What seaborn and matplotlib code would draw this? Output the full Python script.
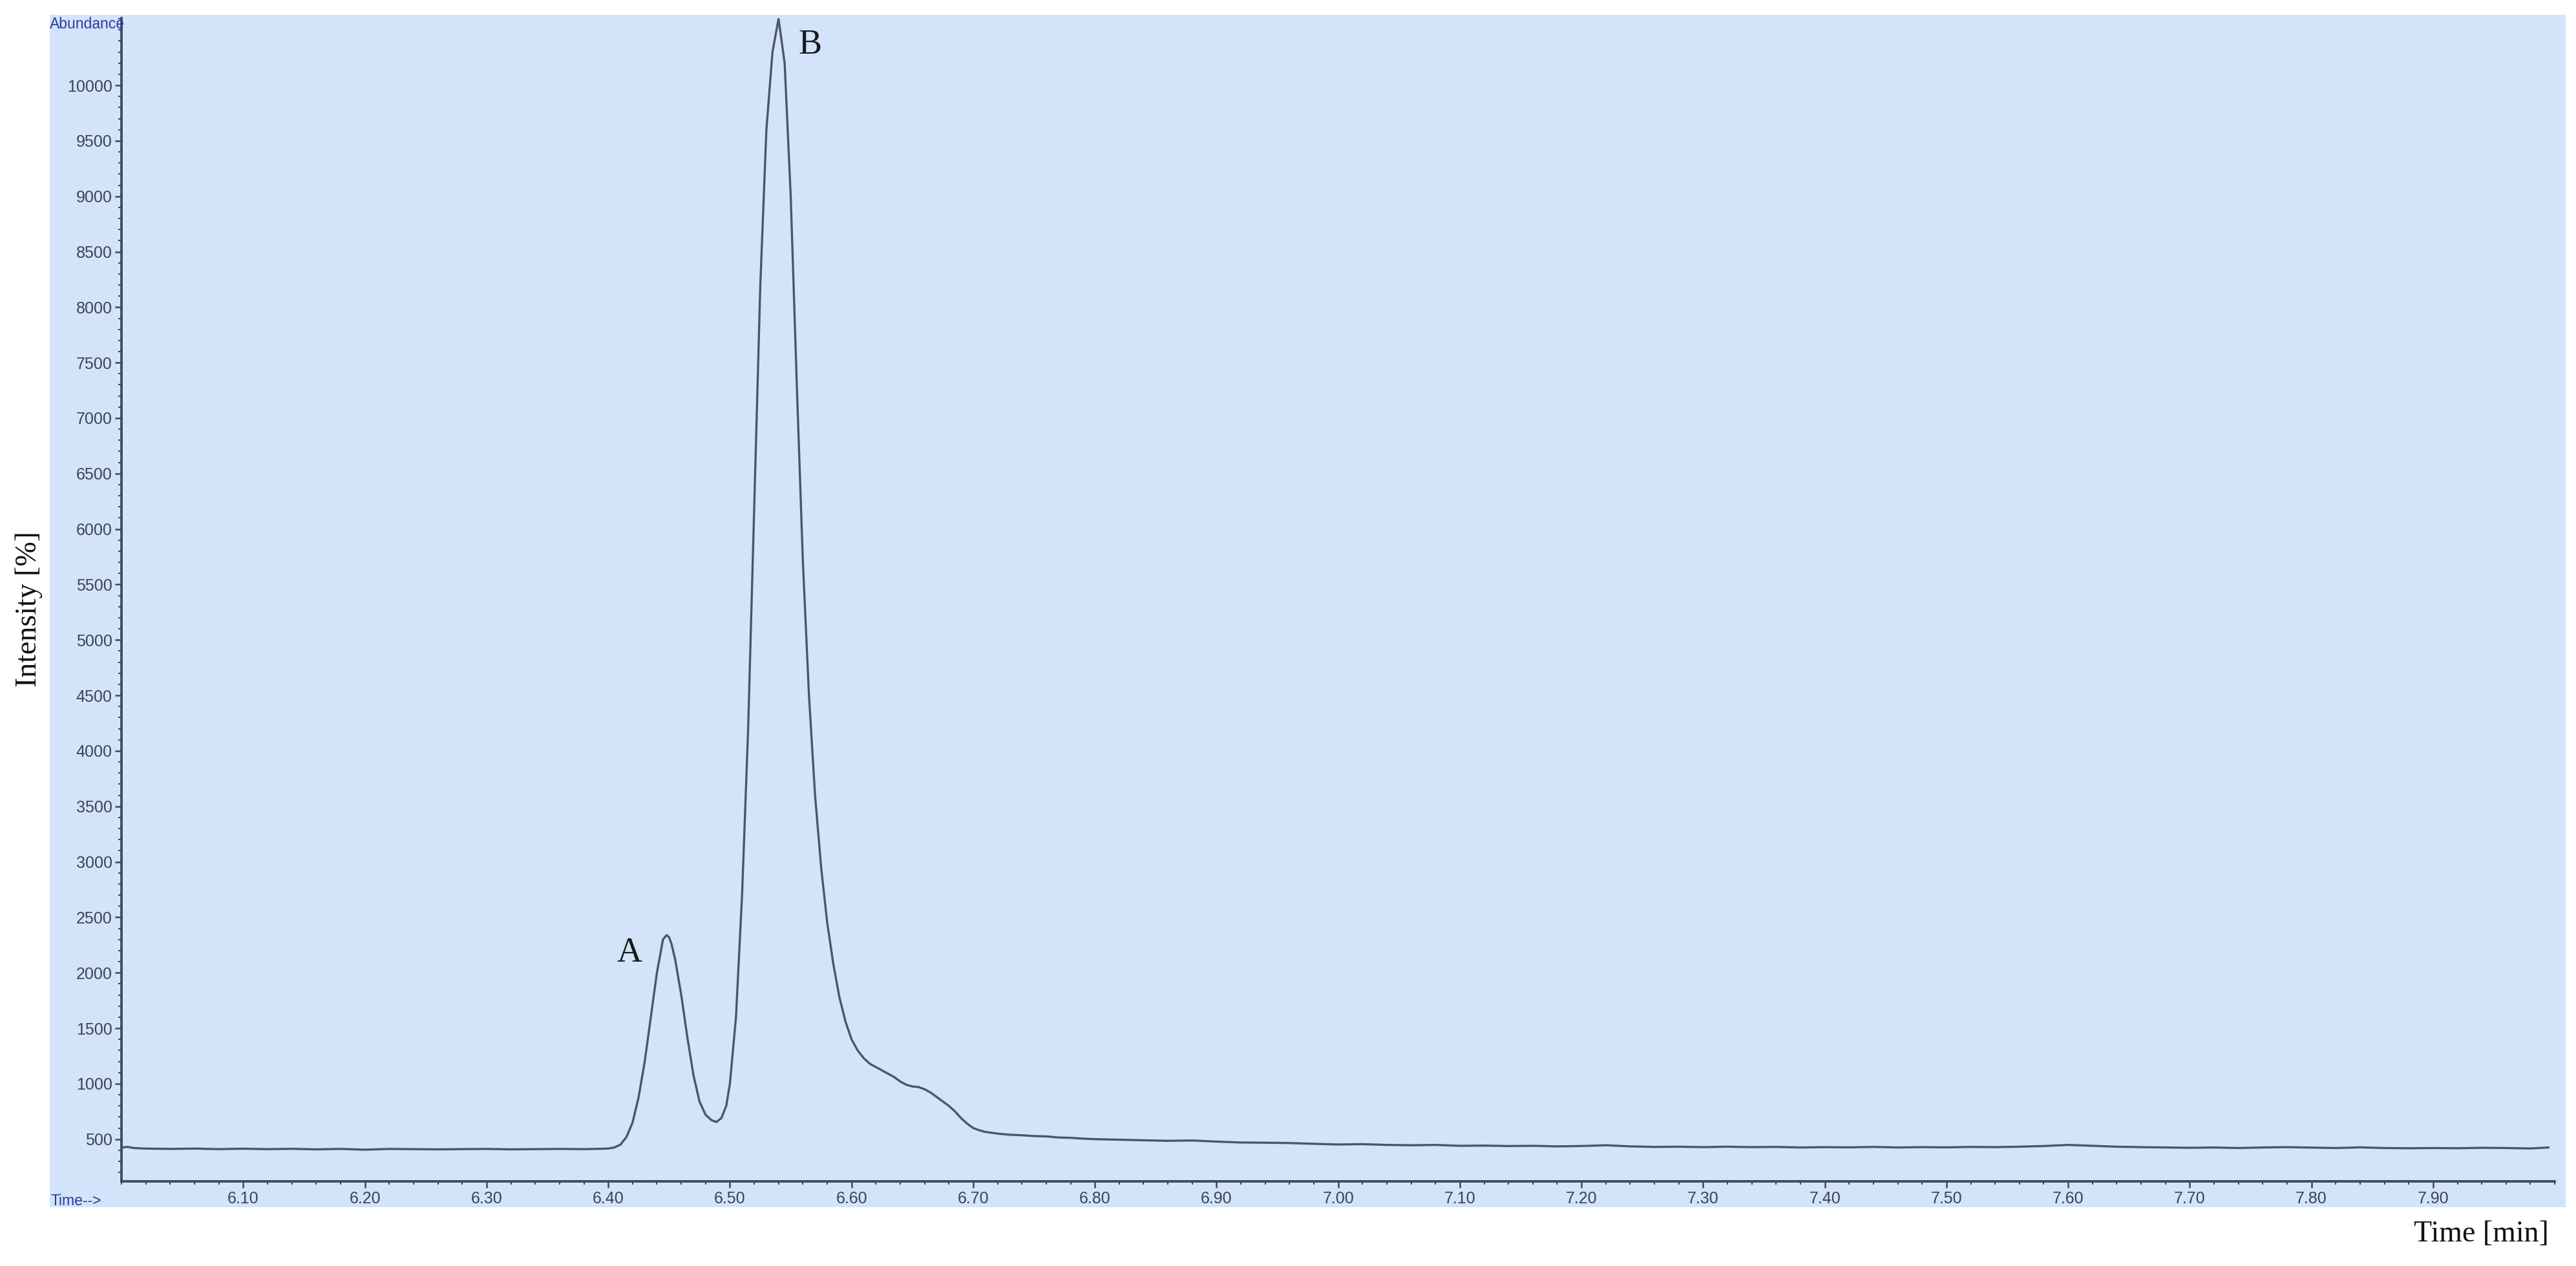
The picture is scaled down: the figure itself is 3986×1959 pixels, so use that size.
import matplotlib
matplotlib.use("Agg")
import matplotlib.pyplot as plt
import seaborn as sns
import pandas as pd
from matplotlib.patches import Rectangle
from matplotlib.ticker import MultipleLocator, FixedLocator

# chromatogram trace (time in min, abundance)
time_min = [
    6.000, 6.005, 6.010, 6.020, 6.040, 6.060, 6.080, 6.100, 6.120, 6.140,
    6.160, 6.180, 6.200, 6.220, 6.240, 6.260, 6.280, 6.300, 6.320, 6.340,
    6.360, 6.380, 6.400, 6.405, 6.410, 6.415, 6.420, 6.425, 6.430, 6.435,
    6.440, 6.445, 6.448, 6.450, 6.452, 6.455, 6.460, 6.465, 6.470, 6.475,
    6.480, 6.485, 6.489, 6.493, 6.497, 6.500, 6.505, 6.510, 6.515, 6.520,
    6.525, 6.530, 6.535, 6.540, 6.545, 6.550, 6.555, 6.560, 6.565, 6.570,
    6.575, 6.580, 6.585, 6.590, 6.595, 6.600, 6.605, 6.610, 6.615, 6.620,
    6.625, 6.630, 6.635, 6.640, 6.645, 6.650, 6.655, 6.660, 6.665, 6.670,
    6.675, 6.680, 6.685, 6.690, 6.695, 6.700, 6.705, 6.710, 6.720, 6.730,
    6.740, 6.750, 6.760, 6.770, 6.780, 6.790, 6.800, 6.820, 6.840, 6.860,
    6.880, 6.900, 6.920, 6.940, 6.960, 6.980, 7.000, 7.020, 7.040, 7.060,
    7.080, 7.100, 7.120, 7.140, 7.160, 7.180, 7.200, 7.220, 7.240, 7.260,
    7.280, 7.300, 7.320, 7.340, 7.360, 7.380, 7.400, 7.420, 7.440, 7.460,
    7.480, 7.500, 7.520, 7.540, 7.560, 7.580, 7.600, 7.620, 7.640, 7.660,
    7.680, 7.700, 7.720, 7.740, 7.760, 7.780, 7.800, 7.820, 7.840, 7.860,
    7.880, 7.900, 7.920, 7.940, 7.960, 7.980, 7.995,
]
abundance = [
    425, 430, 420, 415, 412, 415, 410, 414, 410, 413,
    408, 412, 405, 412, 410, 408, 410, 412, 408, 410,
    412, 410, 415, 425, 450, 520, 650, 880, 1200, 1600,
    2000, 2300, 2340, 2320, 2260, 2120, 1800, 1420, 1080, 840,
    720, 670, 655, 690, 800, 1000, 1600, 2700, 4200, 6200,
    8200, 9600, 10300, 10600, 10200, 9000, 7300, 5700, 4500, 3600,
    2950, 2450, 2080, 1780, 1560, 1400, 1300, 1230, 1180, 1150,
    1120, 1090, 1060, 1020, 990, 975, 970, 950, 920, 880,
    840, 800, 750, 690, 640, 600, 580, 565, 550, 540,
    535, 528, 525, 515, 512, 505, 500, 495, 490, 485,
    488, 478, 470, 468, 465, 458, 452, 455, 448, 445,
    448, 440, 442, 438, 440, 435, 438, 445, 435, 430,
    432, 428, 432, 428, 430, 425, 428, 426, 430, 425,
    428, 426, 430, 428, 432, 438, 448, 440, 432, 428,
    425, 422, 425, 420, 425, 428, 424, 420, 426, 420,
    418, 420, 418, 422, 420, 416, 425,
]
x_major = [6.10, 6.20, 6.30, 6.40, 6.50, 6.60, 6.70, 6.80, 6.90, 7.00,
           7.10, 7.20, 7.30, 7.40, 7.50, 7.60, 7.70, 7.80, 7.90]
y_major = list(range(500, 10001, 500))

df = pd.DataFrame({"Time": time_min, "Abundance": abundance})

sns.set_style("ticks")
plt.rcParams["font.family"] = ["Liberation Sans Narrow", "Liberation Sans", "DejaVu Sans"]

bg = "#d2e3fa"
axcol = "#3b4760"
tickcol = "#3c4452"

fig = plt.figure(figsize=(13.29, 6.53), dpi=300)
fig.patches.append(Rectangle((0.0193, 0.0465), 0.9764, 0.9418, transform=fig.transFigure,
                             facecolor=bg, edgecolor="none", zorder=-5))

ax = fig.add_axes([0.0472, 0.0669, 0.9443, 0.9188])
ax.set_zorder(2)
ax.set_facecolor("none")
sns.lineplot(data=df, x="Time", y="Abundance", ax=ax, color="#4b5567", lw=0.8)

ax.set_xlim(6.0, 8.0)
ax.set_ylim(120, 10606)
ax.xaxis.set_major_locator(FixedLocator(x_major))
ax.xaxis.set_minor_locator(MultipleLocator(0.02))
ax.set_xticklabels([f"{v:.2f}" for v in x_major])
ax.yaxis.set_major_locator(FixedLocator(y_major))
ax.yaxis.set_minor_locator(MultipleLocator(100))
ax.set_yticklabels([str(v) for v in y_major])

for s in ["top", "right"]:
    ax.spines[s].set_visible(False)
for s in ["left", "bottom"]:
    ax.spines[s].set_color(axcol)
    ax.spines[s].set_linewidth(0.9)

ax.tick_params(axis="both", which="major", direction="out", length=2.5, width=0.6,
               color=axcol, labelsize=6, labelcolor=tickcol, pad=1)
ax.tick_params(axis="both", which="minor", direction="out", length=1.2, width=0.5, color=axcol)
ax.set_xlabel("")
ax.set_ylabel("")

ax.text(6.4175, 2176, "A", family="Liberation Serif", fontsize=13, color="#1a1a1a",
        ha="center", va="center")
ax.text(6.566, 10365, "B", family="Liberation Serif", fontsize=13, color="#1a1a1a",
        ha="center", va="center")

fig.text(0.0193, 0.981, "Abundance", fontsize=5.5, color="#2f3a9c", ha="left", va="center")
fig.text(0.0196, 0.0515, "Time-->", fontsize=5.5, color="#2f3a9c", ha="left", va="center")

fig.text(0.0113, 0.519, "Intensity [%]", family="Liberation Serif", fontsize=11,
         rotation=90, ha="center", va="center", color="#111111")
fig.text(0.963, 0.025, "Time [min]", family="Liberation Serif", fontsize=11,
         ha="center", va="center", color="#111111")

fig.savefig("out.png", dpi=300, facecolor="white")
